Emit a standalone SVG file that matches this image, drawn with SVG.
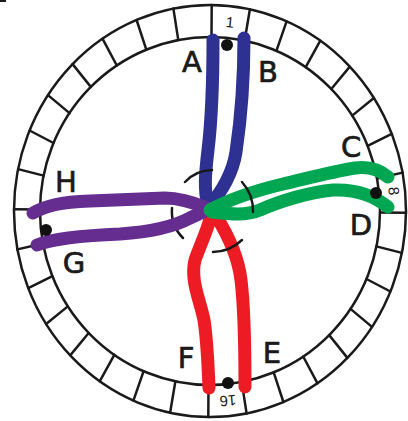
<svg xmlns="http://www.w3.org/2000/svg" width="408" height="421" viewBox="0 0 408 421">
<style>
.ring{fill:none;stroke:#1a1a1a;stroke-width:2.5}
.div{fill:none;stroke:#1a1a1a;stroke-width:2.5;stroke-linecap:round}
.arc{fill:none;stroke:#1a1a1a;stroke-width:2.5;stroke-linecap:round}
.strand{fill:none;stroke-width:13;stroke-linecap:round;stroke-linejoin:round}
.lbl{font-family:"DejaVu Sans","Liberation Sans",sans-serif;font-size:29px;fill:#1a1a1a;stroke:#1a1a1a;stroke-width:0.7;text-anchor:middle}
.num{font-family:"Liberation Sans","DejaVu Sans",sans-serif;font-size:15px;fill:#1a1a1a;text-anchor:middle;dominant-baseline:central}
.dot{fill:#111}
</style>
<rect width="408" height="421" fill="#fff"/>
<line x1="0" y1="1" x2="6" y2="1" stroke="#1a1a1a" stroke-width="2"/>
<g id="dial">
<ellipse class="ring" cx="210" cy="211" rx="196" ry="206"/>
<ellipse class="ring" cx="210" cy="211" rx="170" ry="174"/>
<path class="div" d="M211.7,5L211.5,37 M249.9,9.3L244.6,40.7 M286.6,21.4L276.4,50.8 M320.3,40.7L305.7,67.2 M349.8,66.6L331.3,89 M373.9,98L352.2,115.6 M391.7,133.8L367.6,145.8 M402.6,172.6L377,178.5 M406,212.8L380,212.5 M401.9,252.9L376.4,246.4 M390.4,291.5L366.5,279 M372,326.9L350.5,308.9 M347.4,357.9L329.2,335.1 M317.5,383.3L303.2,356.5 M283.4,402L273.7,372.3 M246.6,413.4L241.7,381.9 M208.3,417L208.5,385 M170.1,412.7L175.4,381.3 M133.4,400.6L143.6,371.2 M99.7,381.3L114.3,354.8 M70.2,355.4L88.7,333 M46.1,324L67.8,306.4 M28.3,288.2L52.4,276.2 M17.4,249.4L43,243.5 M14,209.2L40,209.5 M18.1,169.1L43.6,175.6 M29.6,130.5L53.5,143 M48,95.1L69.5,113.1 M72.6,64.1L90.8,86.9 M102.5,38.7L116.8,65.5 M136.6,20L146.3,49.7 M173.4,8.6L178.3,40.1"/>
<text class="num" transform="translate(230,22) rotate(6)">1</text>
<text class="num" transform="translate(394,191) rotate(85)">8</text>
<text class="num" transform="translate(228,401) rotate(175)">16</text>
</g>
<g id="connectors">
<path class="arc" d="M172,208 A38,38 0 0 0 183,238"/>
<path class="strand" stroke="#ed1c24" d="M212,212 C208,230 200,245 195,260 C190,280 200,300 204,320 C207,340 208,360 209,388"/>
<path class="strand" stroke="#ed1c24" d="M216,216 C228,235 238,255 241,280 C244,305 245,330 245,387"/>
<path class="strand" stroke="#2e3192" d="M213,40 C213,100 211,125 208,150 S204,190 208,206"/>
<path class="strand" stroke="#2e3192" d="M244,38 C244,90 240,125 236,152 C233,172 222,192 209,206"/>
<path class="strand" stroke="#662d91" d="M33,213 C45,206 60,202 90,201 L165,198 C180,198 195,203 207,208"/>
<path class="strand" stroke="#662d91" d="M37,245 C50,240 70,236 120,234 C150,232 175,226 190,218 L207,210"/>
<path class="strand" stroke="#00a651" d="M210,210 C228,200 250,192 283,184 C305,179 330,172 355,168 C370,166 380,170 388,177"/>
<path class="strand" stroke="#00a651" d="M212,212 C230,214 245,216 260,210 C280,201 310,192 333,190 C355,189 372,194 388,207"/>
<path class="arc" d="M185,182 A38,38 0 0 1 212,170"/>
<path class="arc" d="M242,182 A43,43 0 0 1 253,212"/>
<path class="arc" d="M242,240 A43,43 0 0 1 213,252"/>
</g>
<g id="A"><text class="lbl" x="192" y="72">A</text></g>
<g id="B"><text class="lbl" x="268" y="82">B</text></g>
<g id="C"><text class="lbl" x="351" y="157">C</text></g>
<g id="D"><text class="lbl" x="361" y="235">D</text></g>
<g id="E"><text class="lbl" x="272" y="363">E</text></g>
<g id="F"><text class="lbl" x="186" y="368">F</text></g>
<g id="G"><text class="lbl" x="74" y="273">G</text></g>
<g id="H"><text class="lbl" x="66" y="192">H</text></g>
<g id="dots">
<circle class="dot" cx="227" cy="45" r="6"/>
<circle class="dot" cx="376" cy="193" r="6"/>
<circle class="dot" cx="228" cy="383" r="6"/>
<circle class="dot" cx="46" cy="230" r="6"/>
</g>
</svg>
